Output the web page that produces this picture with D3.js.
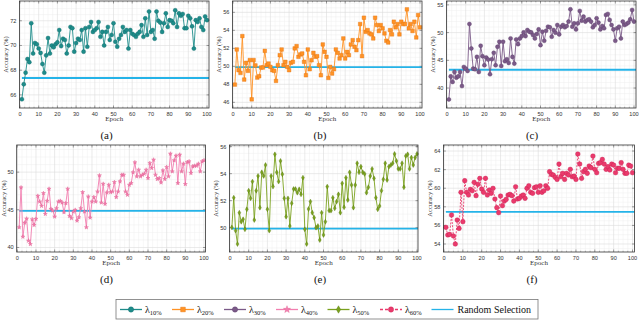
<!DOCTYPE html>
<html>
<head>
<meta charset="utf-8">
<script src="https://cdnjs.cloudflare.com/ajax/libs/d3/7.8.5/d3.min.js"></script>
<style>
body { margin: 0; background: #fff; }
svg { display: block; }
</style>
</head>
<body>
<script>
// accuracy per epoch (1..100) for each selection ratio
var acc10 = [65.65,66.86,67.8,68.9,68.65,71.8,69.35,70.2,70.1,69.75,69.4,68.5,67.8,69.2,70.6,69.35,70.0,69.85,70.1,70.25,
    71.25,69.95,70.55,70.45,69.35,70.0,71.5,71.4,69.5,70.2,70.55,70.45,71.25,69.5,71.4,69.9,71.5,71.9,71.1,71.25,
    71.4,71.9,70.7,71.1,70.0,71.1,71.5,70.45,70.85,71.8,70.3,69.9,70.55,70.85,71.5,71.1,71.25,69.75,71.25,70.95,
    70.85,70.7,70.95,71.1,71.65,70.7,72.2,70.85,72.75,71.1,71.25,70.55,72.75,72.0,71.85,71.1,71.8,72.6,71.5,72.05,
    72.0,71.8,72.85,71.5,72.6,72.4,72.55,71.4,71.4,72.4,72.2,71.55,69.75,72.05,71.9,72.2,71.5,71.25,72.35,72.05];
var acc20 = [47.97,51.87,49.57,49.27,53.36,48.53,50.39,49.5,50.7,46.33,50.7,50.1,48.75,48.9,49.87,49.87,51.72,50.13,50.31,49.94,
    49.57,49.5,48.38,50.13,51.24,51.87,50.13,50.5,49.94,49.57,50.39,50.5,51.99,52.25,51.06,51.32,51.43,50.5,49.01,51.87,
    49.68,50.68,51.5,51.06,51.13,50.13,49.01,52.43,51.61,51.06,48.71,49.94,49.2,49.68,51.87,51.5,50.87,51.24,53.1,50.87,
    51.61,51.24,52.43,52.91,52.17,51.8,52.91,54.7,51.13,55.4,53.84,54.03,53.66,53.55,53.1,55.4,54.59,53.92,54.59,54.22,
    53.66,52.84,52.65,54.03,53.55,54.96,54.33,54.7,53.55,54.96,54.7,54.7,56.33,54.22,54.7,53.92,54.96,53.21,55.7,54.33];
var acc30 = [37.94,42.1,41.1,42.9,41.87,42.1,42.9,40.36,43.8,43.5,43.08,51.55,47.14,43.5,43.38,45.62,42.9,47.62,45.74,44.11,
    45.5,45.14,42.48,45.2,46.35,44.11,47.44,48.35,43.99,48.35,44.84,45.2,44.53,48.95,45.62,44.41,48.77,47.92,48.95,49.37,
    50.04,49.37,50.46,50.16,50.04,49.56,48.95,49.74,50.58,47.74,50.16,48.53,50.34,51.07,50.95,49.25,50.46,49.98,51.37,49.68,
    51.07,51.37,50.95,51.19,51.98,54.21,51.07,51.67,50.58,51.67,53.91,52.16,52.88,51.98,52.28,52.4,51.98,50.95,51.37,52.58,
    51.8,50.58,51.19,50.77,53.19,53.37,52.28,51.37,50.58,48.53,50.77,51.07,48.95,51.98,51.37,51.55,51.8,52.4,54.09,51.98];
var acc40 = [42.67,47.96,41.42,43.29,43.82,40.89,40.44,43.73,42.98,43.78,46.84,46.09,45.51,47.2,44.44,46.18,47.78,45.11,44.89,44.09,
    45.2,46.09,46.18,45.96,44.67,45.87,47.78,44.18,43.87,44.76,44.98,43.56,44.0,45.2,47.33,44.76,42.67,46.76,43.96,46.09,
    46.67,46.09,47.42,49.56,45.96,48.44,45.78,47.29,48.31,47.33,47.42,48.67,46.67,47.42,48.76,49.64,49.64,47.42,46.98,48.31,
    48.53,49.96,51.29,49.42,50.31,49.42,49.64,49.78,50.31,49.2,51.2,50.53,51.64,49.64,49.07,49.2,48.62,50.22,49.07,50.67,
    49.42,52.44,50.09,51.56,52.18,48.53,52.31,50.09,51.11,48.4,51.33,51.42,49.87,50.76,50.84,50.84,51.11,50.09,51.42,51.56];
var acc50 = [50.02,52.22,49.78,48.79,51.11,50.44,50.62,49.88,51.36,52.74,52.17,53.41,50.57,52.74,53.83,51.48,54.1,53.83,54.64,51.36,
    49.78,53.83,53.04,55.43,54.1,53.41,54.94,53.95,52.17,50.81,52.17,50.12,51.8,52.86,52.86,52.59,52.84,52.47,53.7,49.88,
    48.79,51.38,51.93,51.11,50.74,50.0,50.12,49.09,51.11,49.46,50.44,53.04,51.26,51.26,52.22,51.43,51.93,52.47,51.11,53.28,
    51.51,53.7,52.05,54.1,53.16,51.48,53.16,54.77,54.1,54.52,54.1,53.98,52.59,52.99,53.83,54.35,53.65,52.22,51.36,51.6,
    52.74,53.58,54.77,53.53,54.52,54.64,54.77,55.46,54.94,54.35,54.35,54.77,52.99,55.31,55.43,54.35,55.19,54.64,55.19,55.46];
var acc60 = [55.79,54.97,55.04,57.12,54.86,54.0,56.58,55.68,59.56,56.4,60.81,59.56,59.27,59.88,59.73,60.63,59.2,60.42,61.06,59.91,
    59.56,61.06,59.27,59.81,59.45,59.99,58.84,57.91,57.37,59.16,58.12,58.62,58.8,59.27,59.34,59.2,58.62,60.16,58.84,58.91,
    59.16,59.27,58.91,59.99,60.27,59.56,59.45,60.06,60.16,59.56,60.27,59.56,59.73,60.27,59.99,61.78,61.49,61.42,61.17,60.95,
    62.6,61.24,61.6,60.95,61.6,61.42,62.03,61.24,61.31,60.95,63.68,62.6,61.06,61.78,62.03,61.6,62.39,62.21,63.46,62.03,
    61.67,62.67,62.75,63.1,62.6,62.03,62.32,61.96,62.6,62.49,61.67,62.14,62.14,62.75,62.03,61.6,61.6,62.49,62.39,61.67];

// random selection baseline per panel
var randomSel = [67.37, 49.92, 43.3, 44.87, 49.93, 57.46];

var series = [acc10, acc20, acc30, acc40, acc50, acc60];
var ratios = ["10%", "20%", "30%", "40%", "50%", "60%"];
var panelLabels = ["(a)", "(b)", "(c)", "(d)", "(e)", "(f)"];

var xTicks = [0, 10, 20, 30, 40, 50, 60, 70, 80, 90, 100];
var yTicks = [
    [66, 68, 70, 72],
    [46, 48, 50, 52, 54, 56],
    [40, 45, 50, 55],
    [40, 45, 50],
    [50, 52, 54, 56],
    [54, 56, 58, 60, 62, 64]
];
var yDomains = [[64.94, 73.6], [45.37, 57.26], [36.4, 55.7], [39.4, 53.6], [48.2, 56.12], [53.14, 64.65]];
var yMinorStep = [0.5, 0.5, 1, 1, 0.5, 0.5];

var colors = ["#1e8c8a", "#ff9326", "#7b5a88", "#f27fb0", "#7aa11e", "#ea3a6c"];
var darker = ["#0f6b69", "#e2720c", "#5b3d6a", "#e0608f", "#587c0e", "#c81e50"];
var symbols = [d3.symbolCircle, d3.symbolSquare, d3.symbolCircle, d3.symbolStar, d3.symbolDiamond, d3.symbolCircle];
var symSize = [13, 13, 13, 5, 7, 17];
var blue = "#25b3e8";

// plot frames: x0 = pixel of epoch 0, x100 = pixel of epoch 100
var frames = [
    {x0: 20, x100: 207, right: 209, top: 1, bottom: 108},
    {x0: 233, x100: 420, right: 422, top: 1, bottom: 108},
    {x0: 447, x100: 634, right: 636, top: 1, bottom: 108},
    {x0: 17.3, x100: 204, right: 205.5, top: 145, bottom: 252},
    {x0: 230, x100: 417, right: 418, top: 145, bottom: 252},
    {x0: 444, x100: 632.5, right: 634.5, top: 145, bottom: 252}
];

var width = 640;
var height = 320;

var svg = d3.select("body")
    .append("svg")
    .attr("width", width)
    .attr("height", height);

frames.forEach(function(f, k) {
    var left = f.x0 - 0.6;
    var x = d3.scaleLinear().domain([0, 100]).range([f.x0, f.x100]);
    var y = d3.scaleLinear().domain(yDomains[k]).range([f.bottom, f.top]);
    var g = svg.append("g");

    // minor grid
    var xMinor = d3.range(0, 101, 2.5).filter(function(v) { return v % 10 != 0; });
    var yMinor = d3.range(Math.ceil(yDomains[k][0] / yMinorStep[k]) * yMinorStep[k], yDomains[k][1], yMinorStep[k])
        .filter(function(v) { return yTicks[k].indexOf(Math.round(v * 100) / 100) < 0; });

    g.selectAll(".xmin").data(xMinor).enter().append("line")
        .attr("x1", x).attr("x2", x).attr("y1", f.top).attr("y2", f.bottom)
        .attr("stroke", "#eeeeee").attr("stroke-width", 0.5);
    g.selectAll(".ymin").data(yMinor).enter().append("line")
        .attr("x1", left).attr("x2", f.right).attr("y1", y).attr("y2", y)
        .attr("stroke", "#eeeeee").attr("stroke-width", 0.5);
    g.selectAll(".xmaj").data(xTicks).enter().append("line")
        .attr("x1", x).attr("x2", x).attr("y1", f.top).attr("y2", f.bottom)
        .attr("stroke", "#dcdcdc").attr("stroke-width", 0.6);
    g.selectAll(".ymaj").data(yTicks[k]).enter().append("line")
        .attr("x1", left).attr("x2", f.right).attr("y1", y).attr("y2", y)
        .attr("stroke", "#dcdcdc").attr("stroke-width", 0.6);

    // inward ticks on all sides
    g.selectAll(".xt").data(xTicks).enter().append("path")
        .attr("d", function(d) {
            return "M" + x(d) + "," + f.bottom + "v-2.5M" + x(d) + "," + f.top + "v2.5";
        })
        .attr("stroke", "#444").attr("stroke-width", 0.5);
    g.selectAll(".xmt").data(xMinor).enter().append("path")
        .attr("d", function(d) {
            return "M" + x(d) + "," + f.bottom + "v-1.3M" + x(d) + "," + f.top + "v1.3";
        })
        .attr("stroke", "#666").attr("stroke-width", 0.4);
    g.selectAll(".yt").data(yTicks[k]).enter().append("path")
        .attr("d", function(d) {
            return "M" + left + "," + y(d) + "h2.5M" + f.right + "," + y(d) + "h-2.5";
        })
        .attr("stroke", "#444").attr("stroke-width", 0.5);

    // tick labels
    g.selectAll(".xl").data(xTicks).enter().append("text")
        .attr("x", x).attr("y", f.bottom + 7.5)
        .attr("text-anchor", "middle")
        .attr("font-family", "Liberation Sans, Arial, sans-serif")
        .attr("font-size", 5.6).attr("fill", "#333")
        .text(function(d) { return d; });
    g.selectAll(".yl").data(yTicks[k]).enter().append("text")
        .attr("x", left - 3).attr("y", function(d) { return y(d) + 2; })
        .attr("text-anchor", "end")
        .attr("font-family", "Liberation Sans, Arial, sans-serif")
        .attr("font-size", 5.6).attr("fill", "#333")
        .text(function(d) { return d; });

    // axis titles
    g.append("text")
        .attr("x", (left + f.right) / 2).attr("y", f.bottom + 13)
        .attr("text-anchor", "middle")
        .attr("font-family", "Liberation Serif, serif")
        .attr("font-size", 7).attr("fill", "#333")
        .text("Epoch");
    g.append("text")
        .attr("transform", "translate(" + (left - 11) + "," + ((f.top + f.bottom) / 2) + ") rotate(-90)")
        .attr("text-anchor", "middle")
        .attr("font-family", "Liberation Serif, serif")
        .attr("font-size", 6.5).attr("fill", "#333")
        .text("Accuracy (%)");

    // random selection baseline
    g.append("line")
        .attr("x1", x(1)).attr("x2", f.right)
        .attr("y1", y(randomSel[k])).attr("y2", y(randomSel[k]))
        .attr("stroke", blue).attr("stroke-width", 1.8);

    // series
    var data = series[k];
    var line = d3.line()
        .x(function(d, i) { return x(i + 1); })
        .y(function(d) { return y(d); });

    g.append("path")
        .datum(data)
        .attr("d", line)
        .attr("fill", "none")
        .attr("stroke", colors[k])
        .attr("stroke-width", 0.9)
        .attr("stroke-dasharray", k == 5 ? "2,1.3" : null);

    g.selectAll(".pt").data(data).enter().append("path")
        .attr("transform", function(d, i) { return "translate(" + x(i + 1) + "," + y(d) + ")"; })
        .attr("d", d3.symbol().type(symbols[k]).size(symSize[k]))
        .attr("fill", colors[k])
        .attr("stroke", darker[k])
        .attr("stroke-width", 0.4);

    // frame
    g.append("rect")
        .attr("x", left).attr("y", f.top)
        .attr("width", f.right - left).attr("height", f.bottom - f.top)
        .attr("fill", "none").attr("stroke", "#333").attr("stroke-width", 0.8);

    // subfigure label
    var cx = [106.5, 320, 532, 106.5, 320, 532][k];
    svg.append("text")
        .attr("x", cx).attr("y", f.bottom + 31)
        .attr("text-anchor", "middle")
        .attr("font-family", "Liberation Serif, serif")
        .attr("font-size", 11).attr("fill", "#111")
        .text(panelLabels[k]);
});

// legend
var legend = svg.append("g");
legend.append("rect")
    .attr("x", 116).attr("y", 299.5)
    .attr("width", 422).attr("height", 19.5)
    .attr("fill", "#fff").attr("stroke", "#777").attr("stroke-width", 0.8);

var itemX = [120, 172, 224, 276, 327.5, 380, 431.5];
var ly = 309.5;

ratios.forEach(function(r, k) {
    var lx = itemX[k];
    legend.append("line")
        .attr("x1", lx).attr("x2", lx + 22)
        .attr("y1", ly).attr("y2", ly)
        .attr("stroke", colors[k]).attr("stroke-width", 1.3)
        .attr("stroke-dasharray", k == 5 ? "3,2" : null);
    legend.append("path")
        .attr("transform", "translate(" + (lx + 11) + "," + ly + ")")
        .attr("d", d3.symbol().type(symbols[k]).size(k == 3 || k == 4 ? 16 : 22))
        .attr("fill", colors[k]).attr("stroke", darker[k]).attr("stroke-width", 0.4);
    var t = legend.append("text")
        .attr("x", lx + 25).attr("y", ly + 3.5)
        .attr("font-family", "Liberation Serif, serif")
        .attr("font-size", 10).attr("fill", "#111");
    t.append("tspan").text("λ");
    t.append("tspan").attr("font-size", 6.5).attr("dy", 2).text(r);
});

legend.append("line")
    .attr("x1", itemX[6]).attr("x2", itemX[6] + 22)
    .attr("y1", ly).attr("y2", ly)
    .attr("stroke", blue).attr("stroke-width", 1.3);
legend.append("text")
    .attr("x", itemX[6] + 26).attr("y", ly + 3.5)
    .attr("font-family", "Liberation Serif, serif")
    .attr("font-size", 10).attr("fill", "#111")
    .text("Random Selection");
</script>
</body>
</html>
